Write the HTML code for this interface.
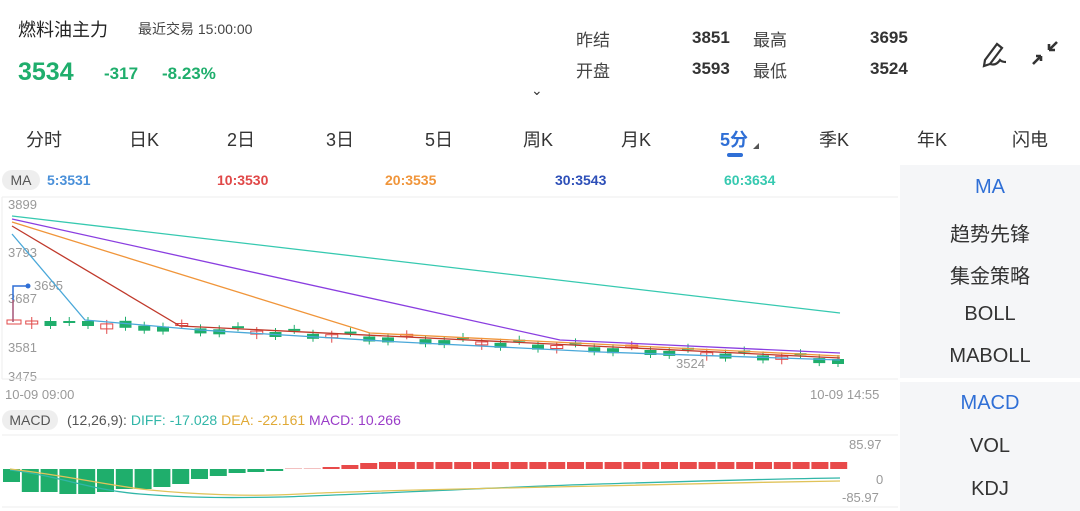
<!DOCTYPE html>
<html><head><meta charset="utf-8"><style>
body{margin:0;width:1080px;height:511px;background:#fff;font-family:"Liberation Sans","Noto Sans CJK SC",sans-serif;position:relative;overflow:hidden;color:#333}
.a{position:absolute;white-space:nowrap}
.tab{position:absolute;top:126px;font-size:18px;color:#333;transform:translateX(-50%)}
.side{position:absolute;left:900px;width:180px;background:#f5f6f8}
.side div{position:absolute;width:180px;text-align:center;font-size:20px;color:#333}
</style></head><body>
<div class="a" style="left:18px;top:16px;font-size:18px;color:#222">燃料油主力</div>
<div class="a" style="left:138px;top:19px;font-size:14px;color:#444">最近交易 15:00:00</div>
<div class="a" style="left:18px;top:58px;font-size:25px;font-weight:bold;color:#1fae6c">3534</div>
<div class="a" style="left:104px;top:64px;font-size:17px;font-weight:bold;color:#1fae6c">-317</div>
<div class="a" style="left:162px;top:64px;font-size:17px;font-weight:bold;color:#1fae6c">-8.23%</div>
<div class="a" style="left:531px;top:82px;font-size:14px;color:#333">⌄</div>
<div class="a" style="left:576px;top:26px;font-size:17px;color:#444">昨结</div>
<div class="a" style="left:576px;top:57px;font-size:17px;color:#444">开盘</div>
<div class="a" style="left:692px;top:28px;font-size:17px;font-weight:bold;color:#333">3851</div>
<div class="a" style="left:692px;top:59px;font-size:17px;font-weight:bold;color:#333">3593</div>
<div class="a" style="left:753px;top:26px;font-size:17px;color:#444">最高</div>
<div class="a" style="left:753px;top:57px;font-size:17px;color:#444">最低</div>
<div class="a" style="left:870px;top:28px;font-size:17px;font-weight:bold;color:#333">3695</div>
<div class="a" style="left:870px;top:59px;font-size:17px;font-weight:bold;color:#333">3524</div>
<svg class="a" style="left:975px;top:36px" width="90" height="36"><path d="M10 24 L22 8 L27 12 L15 28 L9 30 Z M15 28 q6 2 10 -4 q2 2 6 2" stroke="#333" stroke-width="2.2" fill="none"/><path d="M58 28 L66 20 M66 20 v5 M66 20 h-5 M82 6 L74 14 M74 14 v-6 M74 14 h6" stroke="#333" stroke-width="2.6" fill="none"/></svg>
<div class="tab" style="left:44px">分时</div><div class="tab" style="left:144px">日K</div><div class="tab" style="left:241px">2日</div><div class="tab" style="left:340px">3日</div><div class="tab" style="left:439px">5日</div><div class="tab" style="left:538px">周K</div><div class="tab" style="left:636px">月K</div>
<div class="tab" style="left:734px;color:#2f6fd6;font-weight:bold">5分</div>
<div class="a" style="left:727px;top:153px;width:16px;height:4px;border-radius:2px;background:#2f6fd6"></div>
<div class="a" style="left:753px;top:143px;width:0;height:0;border-left:6px solid transparent;border-bottom:6px solid #555"></div>
<div class="tab" style="left:834px">季K</div><div class="tab" style="left:932px">年K</div><div class="tab" style="left:1030px">闪电</div>
<div class="side" style="top:165px;height:213px"><div style="top:11px;color:#2f6fd6">MA</div><div style="top:53px">趋势先锋</div><div style="top:95px">集金策略</div><div style="top:138px">BOLL</div><div style="top:180px">MABOLL</div></div>
<div class="side" style="top:382px;height:129px"><div style="top:10px;color:#2f6fd6">MACD</div><div style="top:53px">VOL</div><div style="top:96px">KDJ</div></div>
<div class="a" style="left:2px;top:170px;width:38px;height:20px;border-radius:10px;background:#eee;font-size:14px;line-height:20px;text-align:center;color:#555">MA</div>
<div class="a" style="left:47px;top:172px;font-size:14px;font-weight:bold;color:#4a90d9">5:3531</div>
<div class="a" style="left:217px;top:172px;font-size:14px;font-weight:bold;color:#e04848">10:3530</div>
<div class="a" style="left:385px;top:172px;font-size:14px;font-weight:bold;color:#f0953a">20:3535</div>
<div class="a" style="left:555px;top:172px;font-size:14px;font-weight:bold;color:#2d4fb8">30:3543</div>
<div class="a" style="left:724px;top:172px;font-size:14px;font-weight:bold;color:#36c9b0">60:3634</div>
<div class="a" style="left:2px;top:410px;width:56px;height:20px;border-radius:10px;background:#eee;font-size:14px;line-height:20px;text-align:center;color:#555">MACD</div>
<div class="a" style="left:67px;top:412px;font-size:14px;color:#555">(12,26,9): <span style="color:#31b6a8">DIFF: -17.028</span> <span style="color:#e0a935">DEA: -22.161</span> <span style="color:#9a3cc8">MACD: 10.266</span></div>
<svg class="a" style="left:0;top:0" width="900" height="511" id="s">
<g fill="#999" font-size="13" font-family="Liberation Sans">
<text x="8" y="209">3899</text><text x="8" y="257">3793</text><text x="8" y="303">3687</text><text x="8" y="352">3581</text><text x="8" y="381">3475</text>
<text x="5" y="399">10-09 09:00</text><text x="810" y="399">10-09 14:55</text>
<text x="34" y="290">3695</text><text x="676" y="368">3524</text>
<text x="849" y="449">85.97</text><text x="876" y="484">0</text><text x="842" y="502">-85.97</text>
</g>
<line x1="2" y1="197" x2="898" y2="197" stroke="#eee"/><line x1="2" y1="379" x2="898" y2="379" stroke="#eee"/>
<line x1="2" y1="197" x2="2" y2="379" stroke="#eee"/>
<line x1="2" y1="435" x2="898" y2="435" stroke="#eee"/><line x1="2" y1="507" x2="898" y2="507" stroke="#eee"/>
<g id="c"></g>
<g fill="none" stroke-width="1.3">
<polyline points="12,216 840,313" stroke="#36c9b0"/>
<polyline points="12,219 560,340 840,353" stroke="#8a3ee0"/>
<polyline points="12,222 370,333 840,356" stroke="#f0953a"/>
<polyline points="12,226 180,326 840,358" stroke="#c0392b"/>
<polyline points="12,234 85,320 200,330 400,342 600,352 840,360" stroke="#4aa8d9"/>
<path d="M10,470 C60,476 90,490 140,494 S230,498 280,497 S500,487 600,484 S760,479 840,478" stroke="#31b6a8"/>
<path d="M10,469 C70,476 110,486 150,490 S250,497 300,494 S500,488 600,486 S760,482 840,481" stroke="#e0c35a"/>
</g>
<path d="M13 322 V286 H27" stroke="#2f6fd6" stroke-width="1.5" fill="none"/><circle cx="28" cy="286" r="2.5" fill="#2f6fd6"/>
<path d="M13 322 V300" stroke="#e04848"/>
</svg>
<script>
var c=document.getElementById('c'),h='';
var n=45,sp=18.75;
for(var i=0;i<n;i++){var x=7+i*sp,y=i<5?321:321+ (i-4)*0.9+(i%3==0?-2:2);var g=(i%4!=1)&&i!=0;var col=g?'#1fae6c':'#e04848';var hh=i==5||i==6?7:(i%3==0?2:5);
if(i==0){h+='<rect x="'+(x)+'" y="320" width="14" height="4" fill="none" stroke="#e04848"/>';continue}
h+='<line x1="'+(x+6)+'" y1="'+(y-4)+'" x2="'+(x+6)+'" y2="'+(y+hh+3)+'" stroke="'+col+'"/>';
h+=g?'<rect x="'+x+'" y="'+y+'" width="12" height="'+hh+'" fill="'+col+'"/>':'<rect x="'+x+'" y="'+y+'" width="12" height="'+Math.max(2,hh-2)+'" fill="none" stroke="'+col+'"/>';}
var gh=[13,23,23,25,25,23,20,20,18,15,10,7,4,3,2];
for(var i=0;i<n;i++){var x=3+i*18.8;
if(i<15)h+='<rect x="'+x+'" y="469" width="17" height="'+gh[i]+'" fill="#1fae6c"/>';
else if(i<17)h+='<rect x="'+x+'" y="468" width="17" height="1" fill="#f3c0c0"/>';
else{var r=Math.min(7,(i-16)*2);h+='<rect x="'+x+'" y="'+(469-r)+'" width="17" height="'+r+'" fill="#e84a4a"/>';}}
c.innerHTML=h;
</script>
</body></html>
